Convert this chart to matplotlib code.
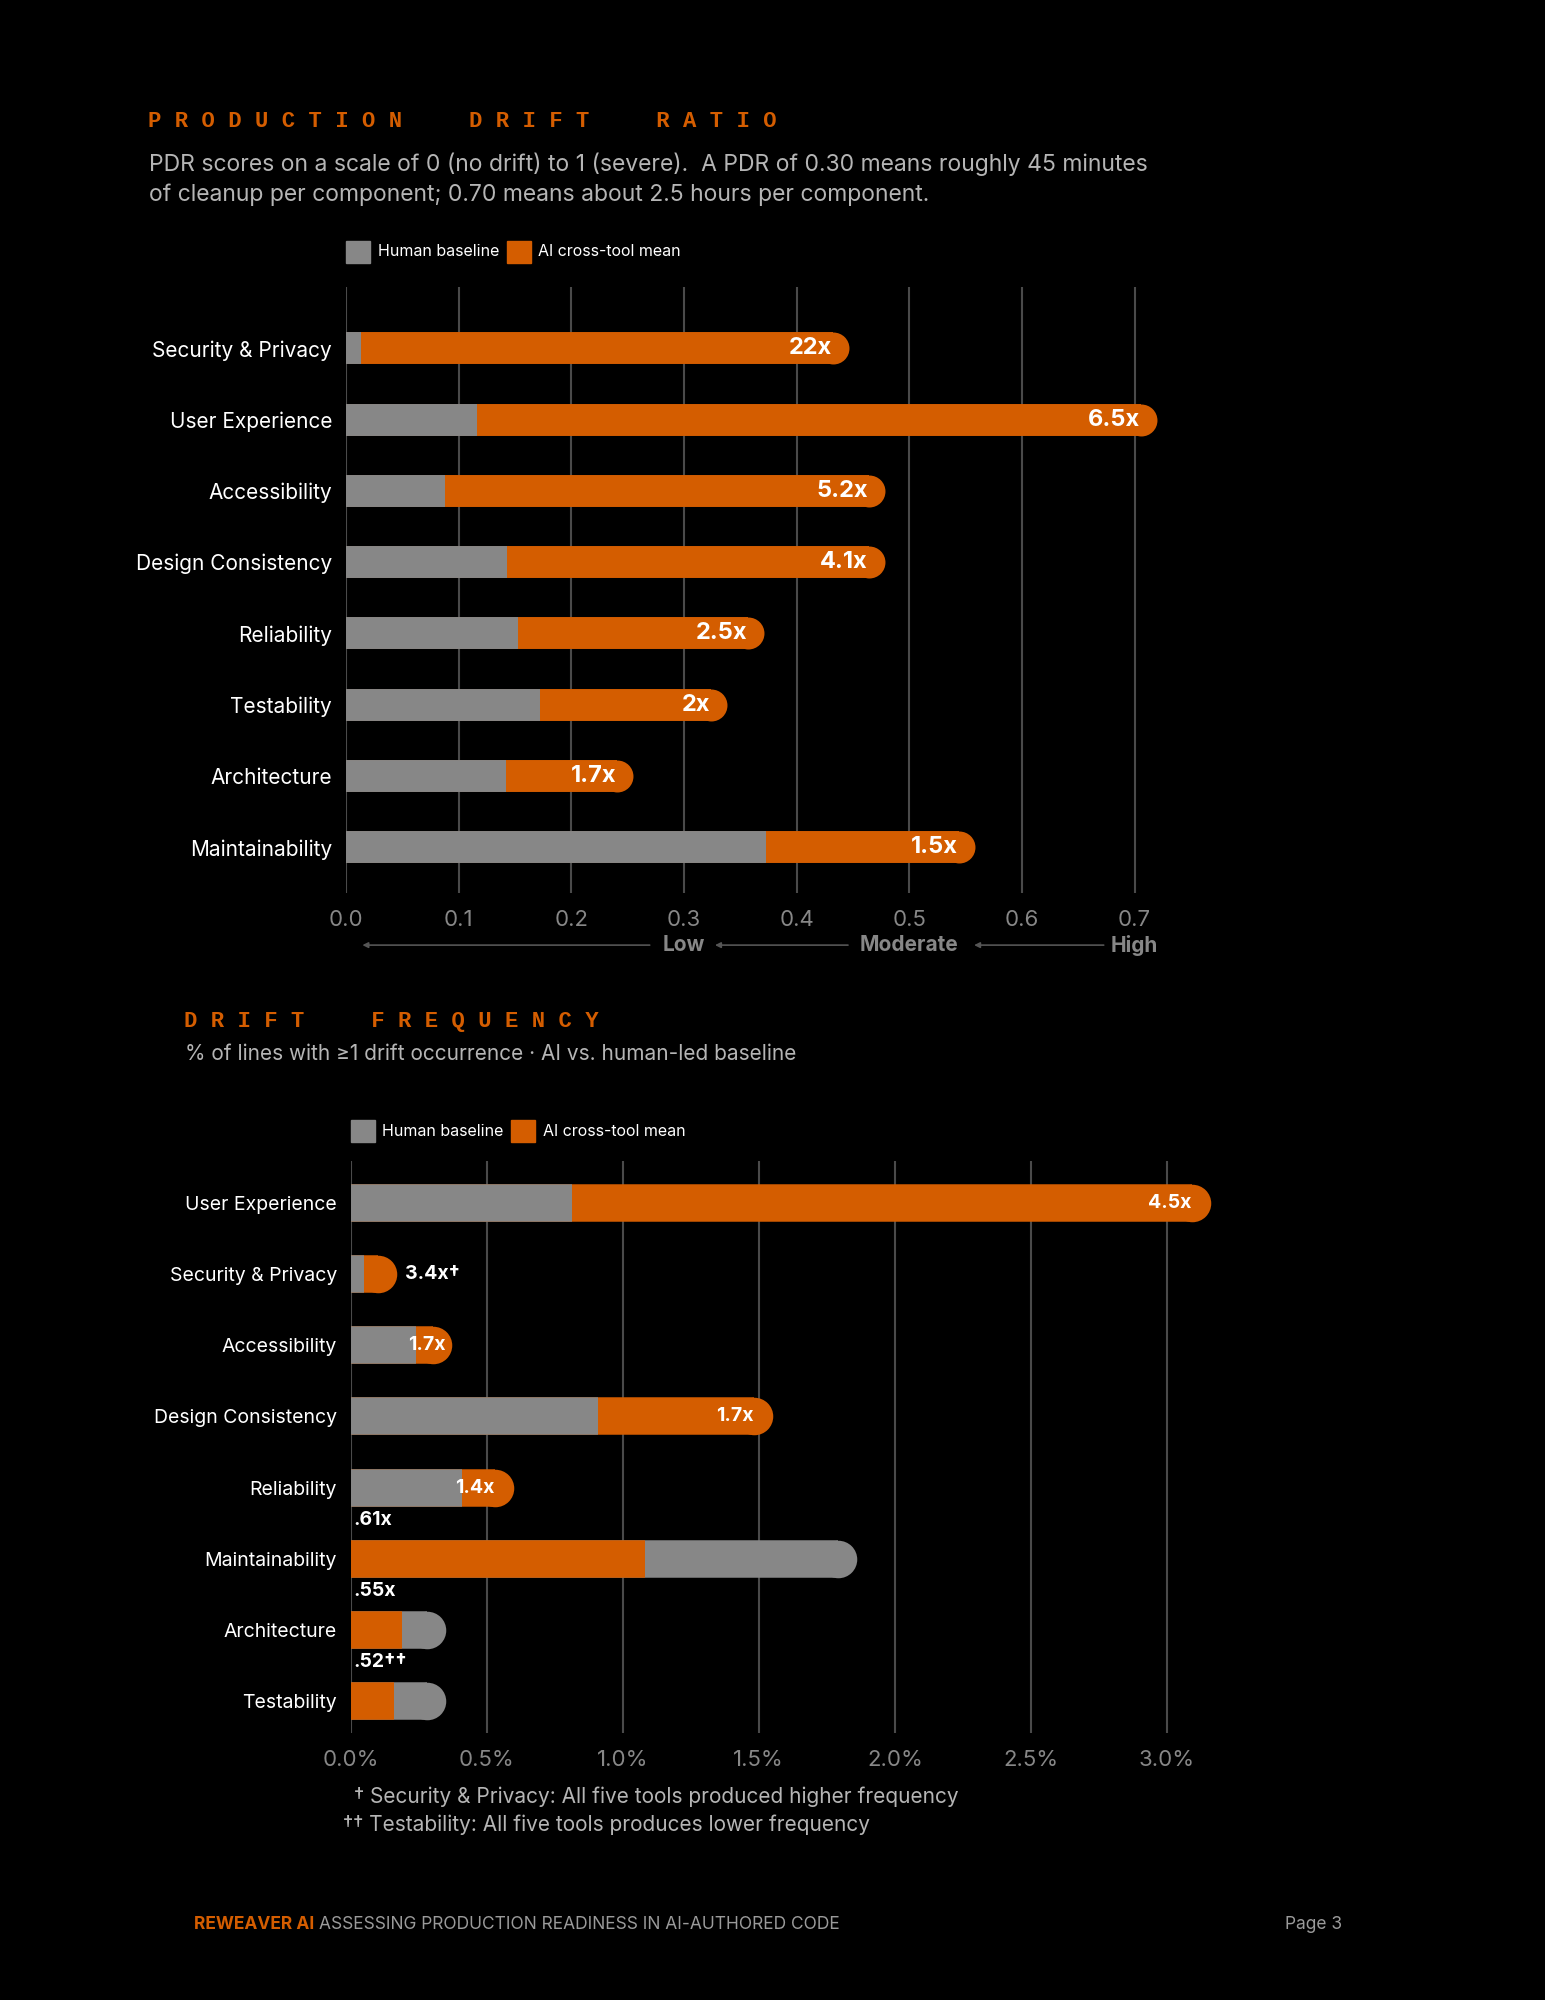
import matplotlib
matplotlib.use("Agg")
import matplotlib.pyplot as plt
from matplotlib.transforms import blended_transform_factory

ORANGE = "#D45D00"
GRAY = "#878787"
FAM = ["Inter", "DejaVu Sans"]
plt.rcParams['font.family'] = FAM

# ---- data: Production Drift Ratio ----
pdr_cats = ["Security & Privacy", "User Experience", "Accessibility", "Design Consistency",
            "Reliability", "Testability", "Architecture", "Maintainability"]
pdr_human = [0.013, 0.116, 0.088, 0.143, 0.153, 0.172, 0.142, 0.373]
pdr_ai = [0.446, 0.72, 0.478, 0.478, 0.371, 0.338, 0.255, 0.558]
pdr_labels = ["22x", "6.5x", "5.2x", "4.1x", "2.5x", "2x", "1.7x", "1.5x"]
pdr_ticks = [0.0, 0.1, 0.2, 0.3, 0.4, 0.5, 0.6, 0.7]

# ---- data: Drift Frequency (%) ----
df_cats = ["User Experience", "Security & Privacy", "Accessibility", "Design Consistency",
           "Reliability", "Maintainability", "Architecture", "Testability"]
df_human = [0.815, 0.05, 0.24, 0.91, 0.41, 1.86, 0.35, 0.35]
df_ai = [3.16, 0.17, 0.37, 1.55, 0.60, 1.08, 0.19, 0.16]
df_labels = ["4.5x", "3.4x\u2020", "1.7x", "1.7x", "1.4x", ".61x", ".55x", ".52\u2020\u2020"]
df_ticks = [0.0, 0.5, 1.0, 1.5, 2.0, 2.5, 3.0]

fig = plt.figure(figsize=(15.45, 20), dpi=100, facecolor="black")


def rounded_bars(ax, human, ai, lw, label_mode):
    fig.canvas.draw()
    bb = ax.get_window_extent()
    x0, x1 = ax.get_xlim()
    pts_per_data = (bb.width / fig.dpi * 72) / (x1 - x0)
    r = lw / 2 / pts_per_data
    for i, (h, a) in enumerate(zip(human, ai)):
        if a >= h:
            big, bc, small, sc = a, ORANGE, h, GRAY
        else:
            big, bc, small, sc = h, GRAY, a, ORANGE
        ax.plot([0, big - r], [i, i], color=bc, lw=lw, solid_capstyle="butt", zorder=3)
        ax.plot([big - r], [i], "o", color=bc, ms=lw, mew=0, zorder=3)
        ax.plot([0, small], [i, i], color=sc, lw=lw, solid_capstyle="butt", zorder=4)
    return r


def style_ax(ax, cats, ticks, fmt, fs):
    ax.set_facecolor("black")
    for s in ax.spines.values():
        s.set_visible(False)
    ax.set_yticks(range(len(cats)))
    ax.set_yticklabels(cats, color="white", fontsize=fs)
    ax.tick_params(axis="y", length=0, pad=10)
    ax.set_xticks(ticks)
    ax.set_xticklabels([fmt(t) for t in ticks], color=GRAY, fontsize=16)
    ax.tick_params(axis="x", length=0, pad=12)
    for t in ticks:
        ax.axvline(t, color="#4a4a4a", lw=1.5, zorder=1)


# ---------- Top chart ----------
ax1 = fig.add_axes([0.224, 0.5535, 0.525, 0.303])
ax1.set_xlim(0, 0.72)
ax1.set_ylim(7.64, -0.86)
style_ax(ax1, pdr_cats, pdr_ticks, lambda t: f"{t:.1f}", 15)
r1 = rounded_bars(ax1, pdr_human, pdr_ai, 23, "inside")
for i, (a, lab) in enumerate(zip(pdr_ai, pdr_labels)):
    ax1.text(a - 0.015, i, lab, color="white", fontsize=17, fontweight="bold",
             ha="right", va="center", zorder=5)

tr = blended_transform_factory(ax1.transData, ax1.transAxes)
yy = -0.086
for lab, xl, xa0, xa1 in [("Low", 0.3, 0.272, 0.012), ("Moderate", 0.5, 0.448, 0.325),
                           ("High", 0.7, 0.675, 0.555)]:
    ax1.text(xl, yy, lab, transform=tr, color=GRAY, fontsize=15, fontweight="bold",
             ha="center", va="center", clip_on=False)
    ax1.annotate("", xy=(xa1, yy), xytext=(xa0, yy), xycoords=tr, textcoords=tr,
                 arrowprops=dict(arrowstyle="-|>", color="#555555", lw=1.2,
                                 mutation_scale=8), annotation_clip=False)

# ---------- Bottom chart ----------
ax2 = fig.add_axes([0.227, 0.1335, 0.567, 0.286])
ax2.set_xlim(0, 3.22)
ax2.set_ylim(7.45, -0.59)
style_ax(ax2, df_cats, df_ticks, lambda t: f"{t:.1f}%", 14)
r2 = rounded_bars(ax2, df_human, df_ai, 27, "mixed")
lab_fs = 14
# inside labels
for i in [0, 3, 4]:
    ax2.text(df_ai[i] - 0.07, i, df_labels[i], color="white", fontsize=lab_fs,
             fontweight="bold", ha="right", va="center", zorder=5)
ax2.text(df_ai[1] + 0.03, 1, df_labels[1], color="white", fontsize=lab_fs,
         fontweight="bold", ha="left", va="center", zorder=5)
ax2.text(0.28, 2, df_labels[2], color="white", fontsize=lab_fs,
         fontweight="bold", ha="center", va="center", zorder=5)
for i in [5, 6, 7]:
    ax2.text(0.01, i - 0.42, df_labels[i], color="white", fontsize=lab_fs,
             fontweight="bold", ha="left", va="bottom", zorder=5)

# ---------- Text ----------
def sp(s):
    return " ".join(s)

fig.text(0.0955, 0.9394, sp("PRODUCTION  DRIFT  RATIO"), color=ORANGE, fontsize=16,
         fontweight="bold", family=["Liberation Mono", "DejaVu Sans Mono"], va="center")
fig.text(0.0965, 0.918, "PDR scores on a scale of 0 (no drift) to 1 (severe).  A PDR of 0.30 means roughly 45 minutes",
         color="#b5b5b5", fontsize=16.5, va="center")
fig.text(0.0965, 0.9025, "of cleanup per component; 0.70 means about 2.5 hours per component.",
         color="#b5b5b5", fontsize=16.5, va="center")

def legend(x, y):
    for dx, c, lab in [(0, GRAY, "Human baseline"), (0.104, ORANGE, "AI cross-tool mean")]:
        fig.patches.append(plt.Rectangle((x + dx, y - 0.0055), 0.0155, 0.011,
                                         transform=fig.transFigure, color=c))
        fig.text(x + dx + 0.0205, y, lab, color="white", fontsize=11.5, va="center")

legend(0.224, 0.874)
legend(0.227, 0.4345)

fig.text(0.119, 0.4895, sp("DRIFT  FREQUENCY"), color=ORANGE, fontsize=16,
         fontweight="bold", family=["Liberation Mono", "DejaVu Sans Mono"], va="center")
fig.text(0.1195, 0.473, "% of lines with \u22651 drift occurrence \u00b7 AI vs. human-led baseline",
         color="#b5b5b5", fontsize=15, va="center")

fig.text(0.229, 0.1017, "\u2020 Security & Privacy: All five tools produced higher frequency",
         color="#b5b5b5", fontsize=15, va="center")
fig.text(0.222, 0.0877, "\u2020\u2020 Testability: All five tools produces lower frequency",
         color="#b5b5b5", fontsize=15, va="center")

fig.text(0.1255, 0.0377, "REWEAVER AI", color=ORANGE, fontsize=12.5, fontweight="bold", va="center")
fig.text(0.2065, 0.0377, "ASSESSING PRODUCTION READINESS IN AI-AUTHORED CODE",
         color="#9a9a9a", fontsize=12.5, va="center")
fig.text(0.8315, 0.0377, "Page 3", color="#9a9a9a", fontsize=12.5, va="center")

fig.savefig("out.png", dpi=100, facecolor="black")
